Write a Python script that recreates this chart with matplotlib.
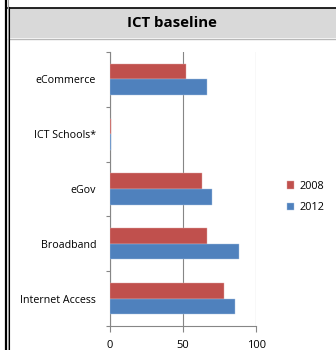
import numpy as np
import matplotlib
matplotlib.use("Agg")
import matplotlib.pyplot as plt
from matplotlib.patches import Rectangle
from matplotlib.lines import Line2D

plt.rcParams['font.family'] = ['Open Sans', 'DejaVu Sans']

categories = ["Internet Access", "Broadband", "eGov", "ICT Schools*", "eCommerce"]
vals_2008 = [78, 66.5, 62.7, 0.6, 51.7]
vals_2012 = [85.4, 88, 70, 0.6, 66]
xticks = [0, 50, 100]

red = "#C0504D"
blue = "#4F81BD"
grid_col = "#868686"

fig = plt.figure(figsize=(3.36, 3.5), dpi=100)

# frame: title band and left borders
fig.patches.append(Rectangle((8/336, 1 - 38/350), 1, 30/350, transform=fig.transFigure,
                             facecolor="#d9d9d9", edgecolor="none", zorder=0))
fig.lines.append(Line2D([8/336, 1], [1 - 7.5/350, 1 - 7.5/350], transform=fig.transFigure,
                        color="black", lw=1.2))
fig.lines.append(Line2D([8/336, 1], [1 - 38.5/350, 1 - 38.5/350], transform=fig.transFigure,
                        color="#b8b8b8", lw=1.0))
fig.lines.append(Line2D([6/336, 6/336], [0, 1], transform=fig.transFigure,
                        color="black", lw=1.6))
fig.lines.append(Line2D([7.5/336, 7.5/336], [0, 1], transform=fig.transFigure,
                        color="#a0a0a0", lw=0.8))
fig.lines.append(Line2D([8.5/336, 8.5/336], [0, 1 - 7/350], transform=fig.transFigure,
                        color="black", lw=0.8))
fig.text(172/336, 1 - 23/350, "ICT baseline", ha="center", va="center",
         fontsize=10.8, fontweight="bold")

ax = fig.add_axes([110/336, 1 - 326/350, 146.3/336, 274/350])
y = np.arange(len(categories))
h = 0.285
ax.barh(y + h/2, vals_2008, height=h, color=red, edgecolor="#e0a8a6", linewidth=0.3,
        label="2008", zorder=3)
ax.barh(y - h/2, vals_2012, height=h, color=blue, edgecolor="#a9c1e0", linewidth=0.3,
        label="2012", zorder=3)

ax.set_xlim(0, 100)
ax.set_ylim(-0.5, len(categories) - 0.5)
ax.set_xticks(xticks)
ax.set_xticklabels([str(t) for t in xticks], fontsize=8)
ax.set_yticks(y)
ax.set_yticklabels(categories, fontsize=7.7)
ax.tick_params(axis="y", length=0, pad=10)
ax.set_yticks(np.arange(-0.5, len(categories)), minor=True)
ax.tick_params(axis="y", which="minor", length=3, color=grid_col, width=0.8)
ax.tick_params(axis="x", length=4, color=grid_col, width=0.8, pad=6)
ax.xaxis.grid(True, color=grid_col, linewidth=0.8, zorder=0)
for s in ["top", "right"]:
    ax.spines[s].set_visible(False)
for s in ["left", "bottom"]:
    ax.spines[s].set_color(grid_col)
    ax.spines[s].set_linewidth(0.8)

leg = ax.legend(loc="center left", bbox_to_anchor=(1.14, 0.47), frameon=False, fontsize=7.8,
                handlelength=0.7, handleheight=0.7, handletextpad=0.5, labelspacing=0.95)

fig.savefig("out.png", dpi=100)
